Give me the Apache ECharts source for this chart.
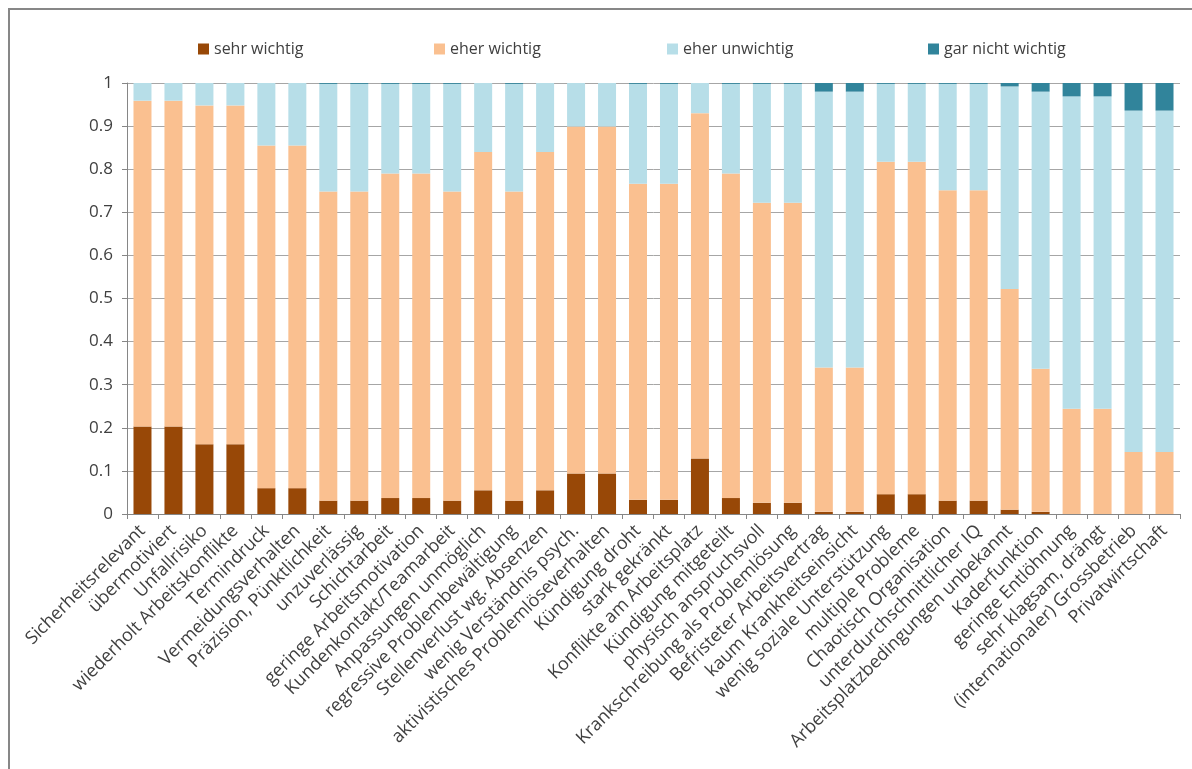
<!DOCTYPE html>
<html>
<head>
<meta charset="utf-8">
<script src="https://cdn.jsdelivr.net/npm/echarts@6/dist/echarts.min.js"></script>
<style>
  html, body { margin: 0; padding: 0; background: #fff; }
  #main { width: 1192px; height: 769px; }
</style>
</head>
<body>
<div id="main"></div>
<script>
const categories = [
  "Sicherheitsrelevant", "übermotiviert", "Unfallrisiko", "wiederholt Arbeitskonflikte",
  "Termindruck", "Vermeidungsverhalten", "Präzision, Pünktlichkeit", "unzuverlässig",
  "Schichtarbeit", "geringe Arbeitsmotivation", "Kundenkontakt/Teamarbeit", "Anpassungen unmöglich",
  "regressive Problembewältigung", "Stellenverlust wg. Absenzen", "wenig Verständnis psych.",
  "aktivistisches Problemlöseverhalten", "Kündigung droht", "stark gekränkt",
  "Konflikte am Arbeitsplatz", "Kündigung mitgeteilt", "physisch anspruchsvoll",
  "Krankschreibung als Problemlösung", "Befristeter Arbeitsvertrag", "kaum Krankheitseinsicht",
  "wenig soziale Unterstützung", "multiple Probleme", "Chaotisch Organisation",
  "unterdurchschnittlicher IQ", "Arbeitsplatzbedingungen unbekannt", "Kaderfunktion",
  "geringe Entlöhnung", "sehr klagsam, drängt", "(internationaler) Grossbetrieb", "Privatwirtschaft"
];

const sehrWichtig = [0.203, 0.203, 0.162, 0.162, 0.060, 0.060, 0.031, 0.031, 0.037, 0.037,
  0.031, 0.055, 0.031, 0.055, 0.094, 0.094, 0.033, 0.033, 0.129, 0.037, 0.026, 0.026,
  0.005, 0.005, 0.046, 0.046, 0.031, 0.031, 0.010, 0.005, 0, 0, 0, 0];

const eherWichtig = [0.756, 0.756, 0.786, 0.786, 0.795, 0.795, 0.717, 0.717, 0.753, 0.753,
  0.717, 0.785, 0.717, 0.785, 0.805, 0.805, 0.733, 0.733, 0.801, 0.753, 0.696, 0.696,
  0.335, 0.335, 0.771, 0.771, 0.720, 0.720, 0.512, 0.332, 0.244, 0.244, 0.144, 0.144];

const eherUnwichtig = [0.041, 0.041, 0.052, 0.052, 0.145, 0.145, 0.250, 0.250, 0.208, 0.208,
  0.250, 0.160, 0.250, 0.160, 0.101, 0.101, 0.232, 0.232, 0.070, 0.208, 0.276, 0.276,
  0.640, 0.640, 0.181, 0.181, 0.247, 0.247, 0.470, 0.643, 0.725, 0.725, 0.792, 0.792];

const garNichtWichtig = [0, 0, 0, 0, 0, 0, 0.002, 0.002, 0.002, 0.002,
  0.002, 0, 0.002, 0, 0, 0, 0.002, 0.002, 0, 0.002, 0.002, 0.002,
  0.020, 0.020, 0.002, 0.002, 0.002, 0.002, 0.008, 0.020, 0.031, 0.031, 0.064, 0.064];

const yTicks = ["0", "0.1", "0.2", "0.3", "0.4", "0.5", "0.6", "0.7", "0.8", "0.9", "1"];

const seriesDefs = [
  { name: "sehr wichtig", data: sehrWichtig, color: "#984807" },
  { name: "eher wichtig", data: eherWichtig, color: "#FAC090" },
  { name: "eher unwichtig", data: eherUnwichtig, color: "#B7DEE8" },
  { name: "gar nicht wichtig", data: garNichtWichtig, color: "#31849B" }
];
const legendLeft = [193, 429, 662, 923];

const font = "'Open Sans', sans-serif";
const chart = echarts.init(document.getElementById("main"));

chart.setOption({
  animation: false,
  textStyle: { fontFamily: font },
  // outer frame, open to the right like the source picture
  graphic: [{
    type: "rect",
    shape: { x: 9, y: 9, width: 1240, height: 800 },
    style: { fill: null, stroke: "#878787", lineWidth: 2 },
    silent: true
  }],
  legend: seriesDefs.map((s, i) => ({
    data: [s.name],
    left: legendLeft[i],
    top: 36,
    itemWidth: 11,
    itemHeight: 11,
    itemGap: 4,
    icon: "rect",
    textStyle: { fontFamily: font, fontSize: 16, color: "#404040" }
  })),
  grid: { left: 127, right: 12, top: 83, bottom: 255, containLabel: false },
  xAxis: {
    type: "category",
    data: categories,
    axisLine: { lineStyle: { color: "#868686", width: 1 } },
    axisTick: { show: true, length: 5, lineStyle: { color: "#868686" } },
    axisLabel: {
      rotate: 45,
      interval: 0,
      margin: 14,
      fontSize: 18,
      color: "#404040",
      fontFamily: font
    }
  },
  yAxis: {
    type: "value",
    min: 0,
    max: 1,
    interval: 0.1,
    axisLine: { show: true, lineStyle: { color: "#868686" } },
    axisTick: { show: true, length: 5, lineStyle: { color: "#868686" } },
    splitLine: { show: true, lineStyle: { color: "#A6A6A6", width: 1 } },
    axisLabel: {
      margin: 14,
      fontSize: 17,
      color: "#404040",
      fontFamily: font,
      formatter: v => yTicks[Math.round(v * 10)]
    }
  },
  series: seriesDefs.map(s => ({
    name: s.name,
    type: "bar",
    stack: "total",
    barWidth: 18,
    data: s.data,
    itemStyle: { color: s.color }
  }))
});
</script>
</body>
</html>
